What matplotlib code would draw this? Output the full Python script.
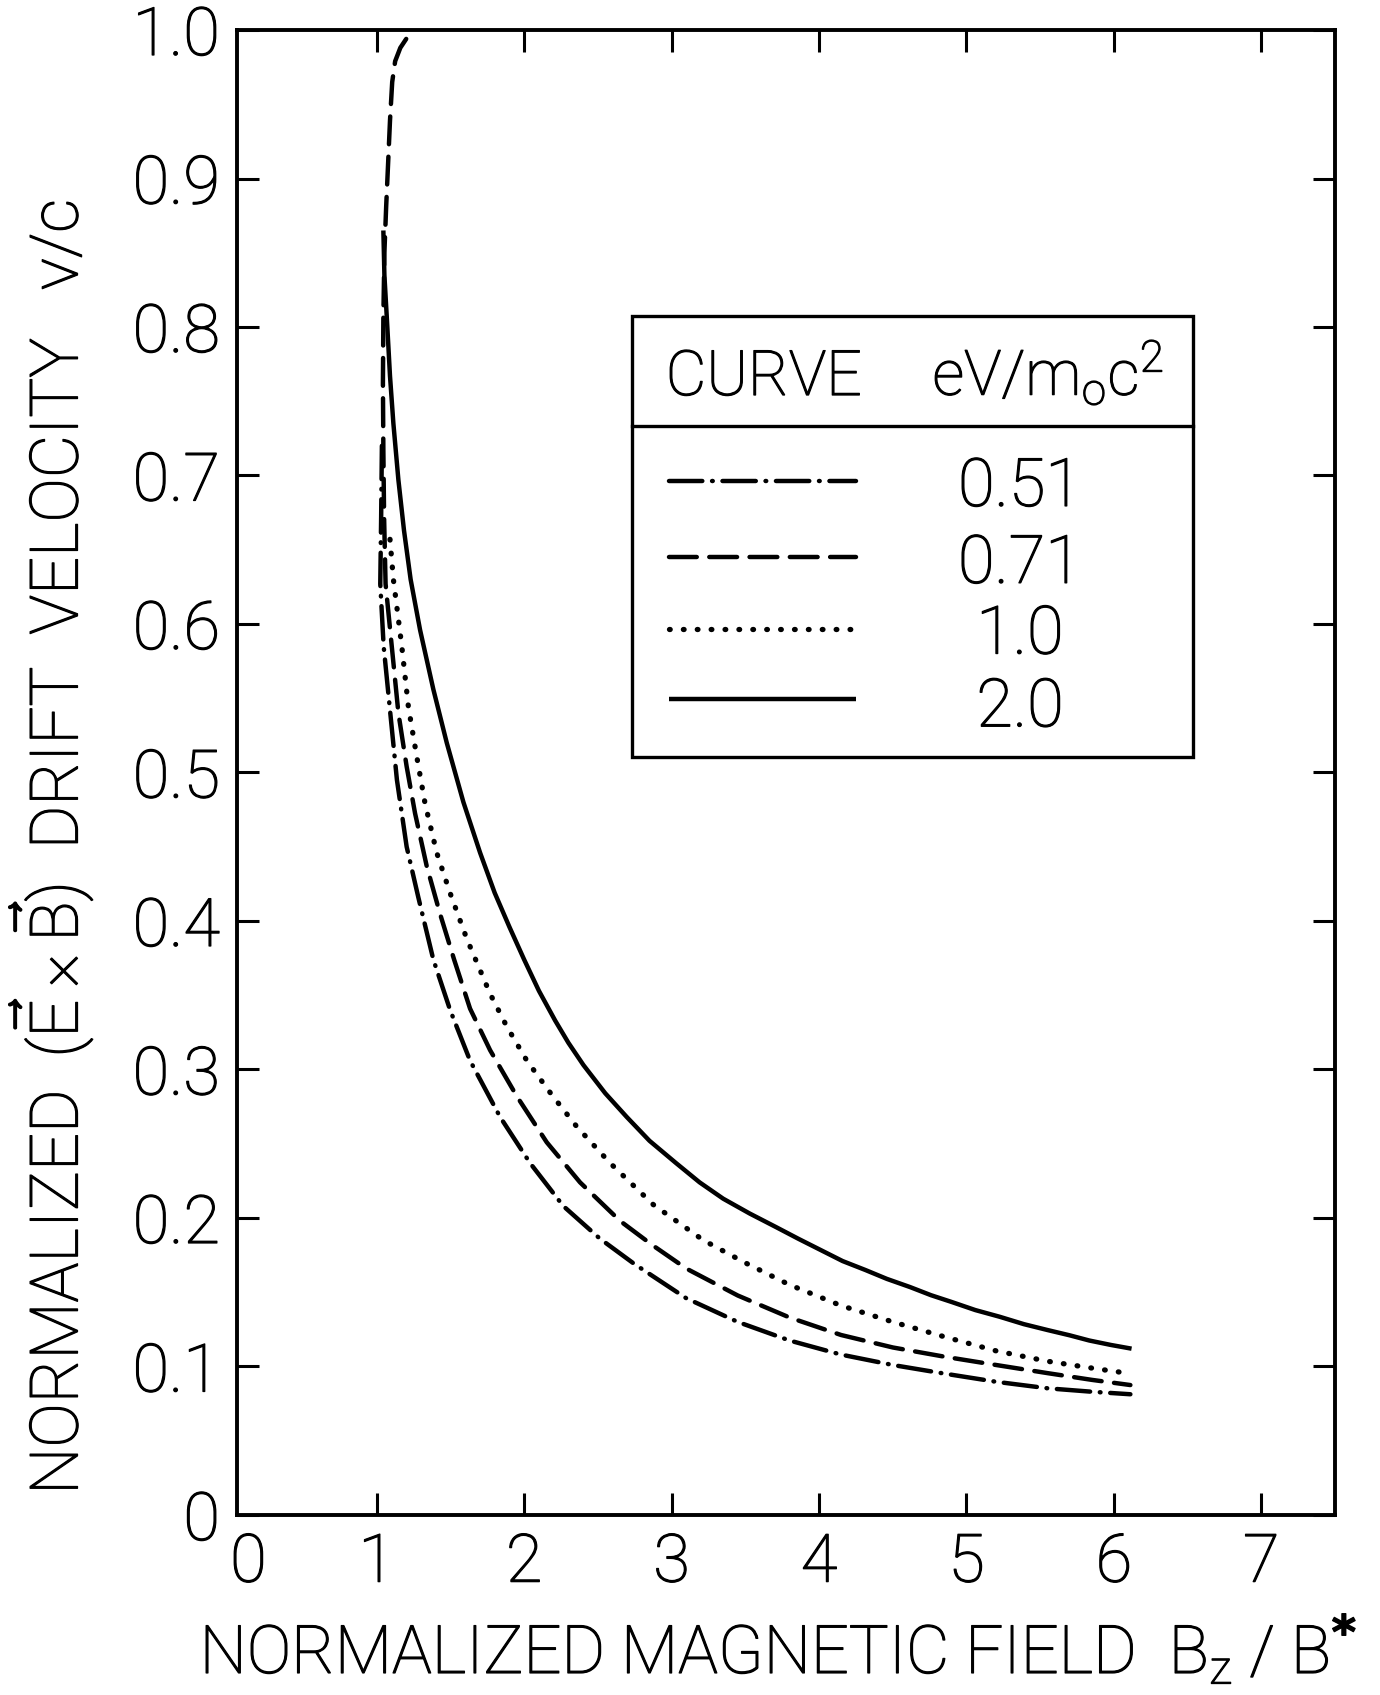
import matplotlib
matplotlib.use("Agg")
import matplotlib.pyplot as plt
import matplotlib.patheffects as pe
from matplotlib.patches import Rectangle

plt.rcParams['font.family'] = ['Roboto', 'DejaVu Sans']
plt.rcParams['font.weight'] = 'light'
plt.rcParams['mathtext.fontset'] = 'custom'
plt.rcParams['mathtext.rm'] = 'Roboto:light'
plt.rcParams['mathtext.it'] = 'Roboto:light'
plt.rcParams['lines.scale_dashes'] = False

# normalized field B_z/B* and drift velocity v/c, one pair per eV/m0c^2
b_051 = [1.035, 1.030, 1.024, 1.047, 1.092, 1.137, 1.203, 1.282, 1.384, 1.498,
         1.633, 1.837, 2.040, 2.266, 2.515, 2.748, 3.099, 3.449, 3.800, 4.150,
         4.501, 4.851, 5.202, 5.552, 5.85, 6.112]
v_051 = [0.720, 0.672, 0.627, 0.585, 0.540, 0.495, 0.450, 0.416, 0.374, 0.340,
         0.306, 0.268, 0.237, 0.208, 0.186, 0.169, 0.146, 0.130, 0.1175, 0.108,
         0.1010, 0.0952, 0.0897, 0.0853, 0.0830, 0.0813]

b_071 = [1.200, 1.160, 1.125, 1.105, 1.090, 1.078, 1.064, 1.052, 1.045, 1.042,
         1.045, 1.050, 1.060, 1.102, 1.147, 1.203, 1.260, 1.339, 1.429, 1.525,
         1.633, 1.769, 1.950, 2.153, 2.379, 2.651, 2.866, 3.099, 3.449, 3.800,
         4.150, 4.501, 4.851, 5.202, 5.552, 5.85, 6.112]
v_071 = [0.994, 0.988, 0.979, 0.965, 0.939, 0.912, 0.881, 0.850, 0.807, 0.762,
         0.717, 0.672, 0.627, 0.585, 0.540, 0.504, 0.4725, 0.437, 0.405, 0.374,
         0.341, 0.313, 0.282, 0.251, 0.224, 0.198, 0.182, 0.166, 0.1478, 0.1330,
         0.1212, 0.1128, 0.1066, 0.1010, 0.0955, 0.0910, 0.0875]

b_10 = [1.090, 1.113, 1.170, 1.215, 1.271, 1.328, 1.407, 1.497, 1.611, 1.769,
        1.882, 2.018, 2.187, 2.357, 2.583, 2.876, 3.216, 3.496, 3.800, 4.150,
        4.501, 4.851, 5.202, 5.552, 5.879, 6.112]
v_10 = [0.657, 0.630, 0.585, 0.544, 0.511, 0.479, 0.446, 0.419, 0.388, 0.351,
        0.329, 0.306, 0.283, 0.2615, 0.237, 0.209, 0.1850, 0.1700, 0.1550, 0.1410,
        0.1300, 0.1200, 0.1105, 0.1035, 0.0985, 0.0952]

b_20 = [1.045, 1.052, 1.068, 1.090, 1.113, 1.147, 1.185, 1.230, 1.294, 1.384,
        1.475, 1.588, 1.701, 1.800, 1.900, 2.000, 2.100, 2.210, 2.300, 2.402,
        2.550, 2.696, 2.850, 3.030, 3.190, 3.350, 3.530, 3.706, 3.860, 4.010,
        4.160, 4.314, 4.460, 4.617, 4.760, 4.898, 5.060, 5.225, 5.390, 5.552,
        5.700, 5.833, 5.980, 6.120]
v_20 = [0.865, 0.835, 0.807, 0.767, 0.735, 0.697, 0.663, 0.630, 0.596, 0.556,
        0.520, 0.480, 0.446, 0.419, 0.396, 0.374, 0.353, 0.333, 0.318, 0.303,
        0.284, 0.268, 0.252, 0.237, 0.224, 0.213, 0.203, 0.194, 0.186, 0.1785,
        0.1710, 0.1650, 0.1590, 0.1535, 0.1480, 0.1435, 0.1380, 0.1335, 0.1285, 0.1245,
        0.1210, 0.1175, 0.1145, 0.1120]

energies = ['0.51', '0.71', '1.0', '2.0']
x_ticks = [0.13, 1, 2, 3, 4, 5, 6, 7]
x_tick_labels = ['0', '1', '2', '3', '4', '5', '6', '7']
y_ticks = [0, 0.1, 0.2, 0.3, 0.4, 0.5, 0.6, 0.7, 0.8, 0.9, 1.0]
y_tick_labels = ['0', '0.1', '0.2', '0.3', '0.4', '0.5', '0.6', '0.7', '0.8', '0.9', '1.0']

styles = [
    dict(linestyle=(0, (24, 7, 0.5, 7)), dash_capstyle='round', lw=3.2),
    dict(linestyle=(0, (20, 9)), dash_capstyle='round', lw=3.2),
    dict(linestyle=(0, (0.5, 9.5)), dash_capstyle='round', lw=3.8),
    dict(linestyle='-', solid_capstyle='butt', lw=3.2),
]
curves = [(b_051, v_051), (b_071, v_071), (b_10, v_10), (b_20, v_20)]

# light lettering thickened a little with an outline of the same colour
ink = [pe.withStroke(linewidth=0.9, foreground='black')]

fig = plt.figure(figsize=(13.8, 16.95), dpi=100)
ax = fig.add_axes([0.1715, 0.1062, 0.7959, 0.8761])

for (bx, vy), st in zip(curves, styles):
    ax.plot(bx, vy, color='black', **st)

ax.set_xlim(0.05, 7.5)
ax.set_ylim(0, 1.0)
ax.set_xticks(x_ticks, x_tick_labels)
ax.set_yticks(y_ticks, y_tick_labels)
ax.tick_params(direction='in', length=16, width=2.2, top=True, right=True,
               labelsize=48)
ax.tick_params(axis='x', pad=12)
ax.tick_params(axis='y', pad=12)
for lab in ax.get_xticklabels() + ax.get_yticklabels():
    lab.set_path_effects(ink)
# no tick mark for the "0" label on the x axis
t0 = ax.xaxis.get_major_ticks()[0]
t0.tick1line.set_visible(False)
t0.tick2line.set_visible(False)
for sp in ax.spines.values():
    sp.set_linewidth(2.8)

# key box
ax.add_patch(Rectangle((0.360, 0.5104), 0.5107, 0.297, transform=ax.transAxes,
                       fill=False, lw=2.4, color='black', zorder=3))
ax.plot([0.360, 0.8707], [0.7333, 0.7333], transform=ax.transAxes,
        color='black', lw=2.4)
ax.text(0.480, 0.7542, 'CURVE', transform=ax.transAxes, fontsize=45,
        ha='center', va='baseline', path_effects=ink)
ax.text(0.6336, 0.7542, r'eV/m$_\mathrm{o}$c$^\mathrm{2}$', transform=ax.transAxes,
        fontsize=45, ha='left', va='baseline', path_effects=ink)
key_y = [0.6963, 0.6453, 0.5963, 0.5492]
label_y = [0.6795, 0.6277, 0.5801, 0.5311]
for st, ky, ly, lab in zip(styles, key_y, label_y, energies):
    ax.plot([0.3932, 0.5639], [ky, ky], transform=ax.transAxes,
            color='black', **st)
    ax.text(0.7132, ly, lab, transform=ax.transAxes, fontsize=48,
            ha='center', va='baseline', path_effects=ink)

fig.text(778 / 1380, 1 - 1673 / 1695,
         r'NORMALIZED MAGNETIC FIELD  B$_\mathrm{z}$ / B$^{\mathbf{*}}$',
         fontsize=48, ha='center', va='baseline', path_effects=ink)
fig.text(51 / 1380, 1 - 848 / 1695,
         r'NORMALIZED  ($\vec{\mathrm{E}}\times\vec{\mathrm{B}}$)  DRIFT  VELOCITY   v/c',
         fontsize=48, ha='center', va='center', rotation=90, path_effects=ink)

fig.savefig('out.png', dpi=100)
